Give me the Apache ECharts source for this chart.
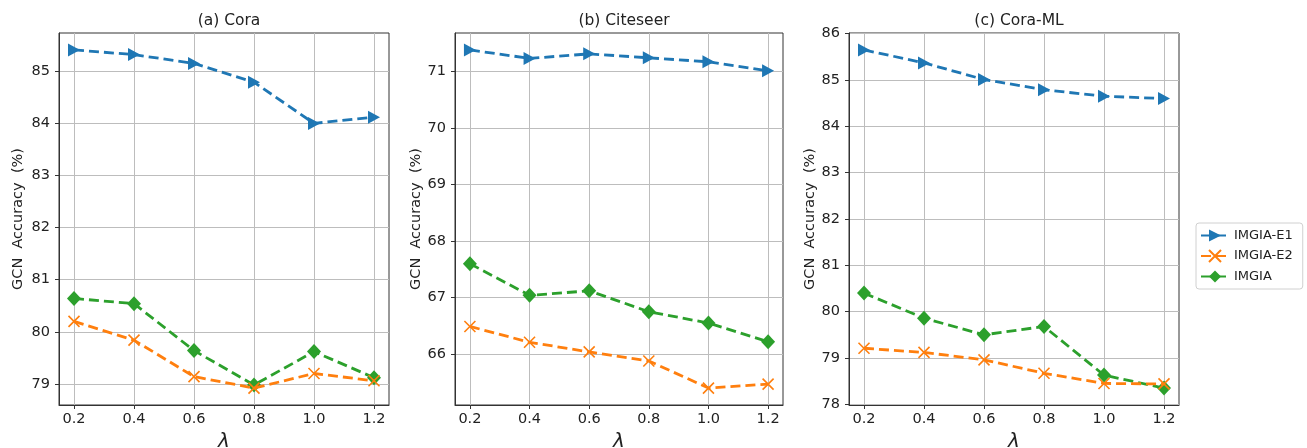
<!DOCTYPE html>
<html>
<head>
<meta charset="utf-8">
<script src="https://cdn.jsdelivr.net/npm/echarts@6/dist/echarts.min.js"></script>
<style>
html,body{margin:0;padding:0;background:#fff;}
#chart{width:1307px;height:448px;}
</style>
</head>
<body>
<div id="chart"></div>
<script>
// ---- data ----
const lambdas = [0.2, 0.4, 0.6, 0.8, 1.0, 1.2];
const seriesNames = ['IMGIA-E1', 'IMGIA-E2', 'IMGIA'];
const panelTitles = ['(a) Cora', '(b) Citeseer', '(c) Cora-ML'];

const coraE1 = [85.41, 85.32, 85.15, 84.79, 84.00, 84.12];
const coraE2 = [80.20, 79.84, 79.14, 78.92, 79.20, 79.06];
const coraIMGIA = [80.64, 80.54, 79.64, 78.98, 79.62, 79.12];

const citeseerE1 = [71.38, 71.23, 71.31, 71.24, 71.17, 71.01];
const citeseerE2 = [66.49, 66.21, 66.04, 65.88, 65.40, 65.47];
const citeseerIMGIA = [67.60, 67.04, 67.12, 66.75, 66.55, 66.22];

const coraMLE1 = [85.65, 85.37, 85.01, 84.79, 84.65, 84.60];
const coraMLE2 = [79.21, 79.12, 78.96, 78.67, 78.45, 78.44];
const coraMLIMGIA = [80.40, 79.86, 79.50, 79.68, 78.63, 78.35];

const coraYTicks = [79, 80, 81, 82, 83, 84, 85];
const citeseerYTicks = [66, 67, 68, 69, 70, 71];
const coraMLYTicks = [78, 79, 80, 81, 82, 83, 84, 85, 86];
const xTicks = [0.2, 0.4, 0.6, 0.8, 1.0, 1.2];

// ---- styling / layout ----
const colors = ['#1f77b4', '#ff7f0e', '#2ca02c'];
const symbols = [
  'path://M0,0 L10,5 L0,10 Z',
  'path://M0,0 L10,10 M10,0 L0,10',
  'diamond'
];
const symbolSizes = [[12, 13], 11, [14, 15]];

const panels = [
  {data: [coraE1, coraE2, coraIMGIA], yTicks: coraYTicks, left: 59, width: 330, gap: 33},
  {data: [citeseerE1, citeseerE2, citeseerIMGIA], yTicks: citeseerYTicks, left: 455, width: 328, gap: 31},
  {data: [coraMLE1, coraMLE2, coraMLIMGIA], yTicks: coraMLYTicks, left: 849, width: 330, gap: 31}
];

function extent(arrs) {
  const all = [].concat(...arrs);
  const lo = Math.min(...all), hi = Math.max(...all);
  const m = (hi - lo) * 0.05;
  return [lo - m, hi + m];
}

const FONT = 'DejaVu Sans';
const grids = [], xAxes = [], yAxes = [], titles = [], series = [];

panels.forEach((p, i) => {
  grids.push({left: p.left, width: p.width, top: 33, bottom: 43, show: true,
    outerBoundsMode: 'none', containLabel: false,
    borderColor: '#333', borderWidth: 1, backgroundColor: 'transparent'});
  titles.push({text: panelTitles[i], left: p.left + p.width / 2, textAlign: 'center', top: 8,
    textStyle: {fontFamily: FONT, fontSize: 15.5, fontWeight: 'normal', color: '#222'}});
  const xr = [lambdas[0] - 0.05 * (lambdas[5] - lambdas[0]), lambdas[5] + 0.05 * (lambdas[5] - lambdas[0])];
  xAxes.push({type: 'value', gridIndex: i, min: xr[0], max: xr[1],
    name: 'λ', nameLocation: 'middle', nameGap: 25,
    nameTextStyle: {fontFamily: FONT, fontStyle: 'italic', fontSize: 20, color: '#222'},
    axisLine: {show: true, lineStyle: {color: '#333', width: 1}},
    axisTick: {show: true, length: 4, lineStyle: {color: '#333'}, customValues: xTicks},
    axisLabel: {customValues: xTicks, formatter: v => v.toFixed(1), margin: 7,
      fontFamily: FONT, fontSize: 14.5, color: '#222'},
    splitLine: {show: true, customValues: xTicks, lineStyle: {color: '#bdbdbd', width: 1}}
  });
  const yr = extent(p.data);
  yAxes.push({type: 'value', gridIndex: i, min: yr[0], max: yr[1],
    name: 'GCN  Accuracy  (%)', nameLocation: 'middle', nameGap: p.gap,
    nameTextStyle: {fontFamily: FONT, fontSize: 14.5, color: '#222'},
    axisLine: {show: true, lineStyle: {color: '#333', width: 1}},
    axisTick: {show: true, length: 4, lineStyle: {color: '#333'}, customValues: p.yTicks},
    axisLabel: {customValues: p.yTicks, formatter: v => String(Math.round(v)), margin: 9,
      fontFamily: FONT, fontSize: 14.5, color: '#222'},
    splitLine: {show: true, customValues: p.yTicks, lineStyle: {color: '#bdbdbd', width: 1}}
  });
  p.data.forEach((vals, s) => {
    series.push({
      name: seriesNames[s], type: 'line', xAxisIndex: i, yAxisIndex: i,
      data: lambdas.map((l, k) => [l, vals[k]]),
      symbol: symbols[s], symbolSize: symbolSizes[s], symbolKeepAspect: true,
      showAllSymbol: true,
      lineStyle: {color: colors[s], width: 2.8, type: [10, 5]},
      itemStyle: s === 1
        ? {color: colors[s], borderColor: colors[s], borderWidth: 1.6}
        : {color: colors[s], borderWidth: 0},
      emphasis: {disabled: true}, z: 3 + (2 - s), animation: false
    });
  });
});

const chart = echarts.init(document.getElementById('chart'), null, {renderer: 'canvas'});
chart.setOption({
  animation: false,
  backgroundColor: '#fff',
  title: titles,
  grid: grids,
  xAxis: xAxes,
  yAxis: yAxes,
  legend: {
    data: seriesNames, orient: 'vertical', left: 1196, top: 223,
    itemWidth: 28, itemHeight: 15, itemGap: 7,
    padding: [6, 10, 6, 4],
    borderColor: '#d0d0d0', borderWidth: 1, borderRadius: 3,
    textStyle: {fontFamily: FONT, fontSize: 13, color: '#222'}
  },
  series: series
});
</script>
</body>
</html>
